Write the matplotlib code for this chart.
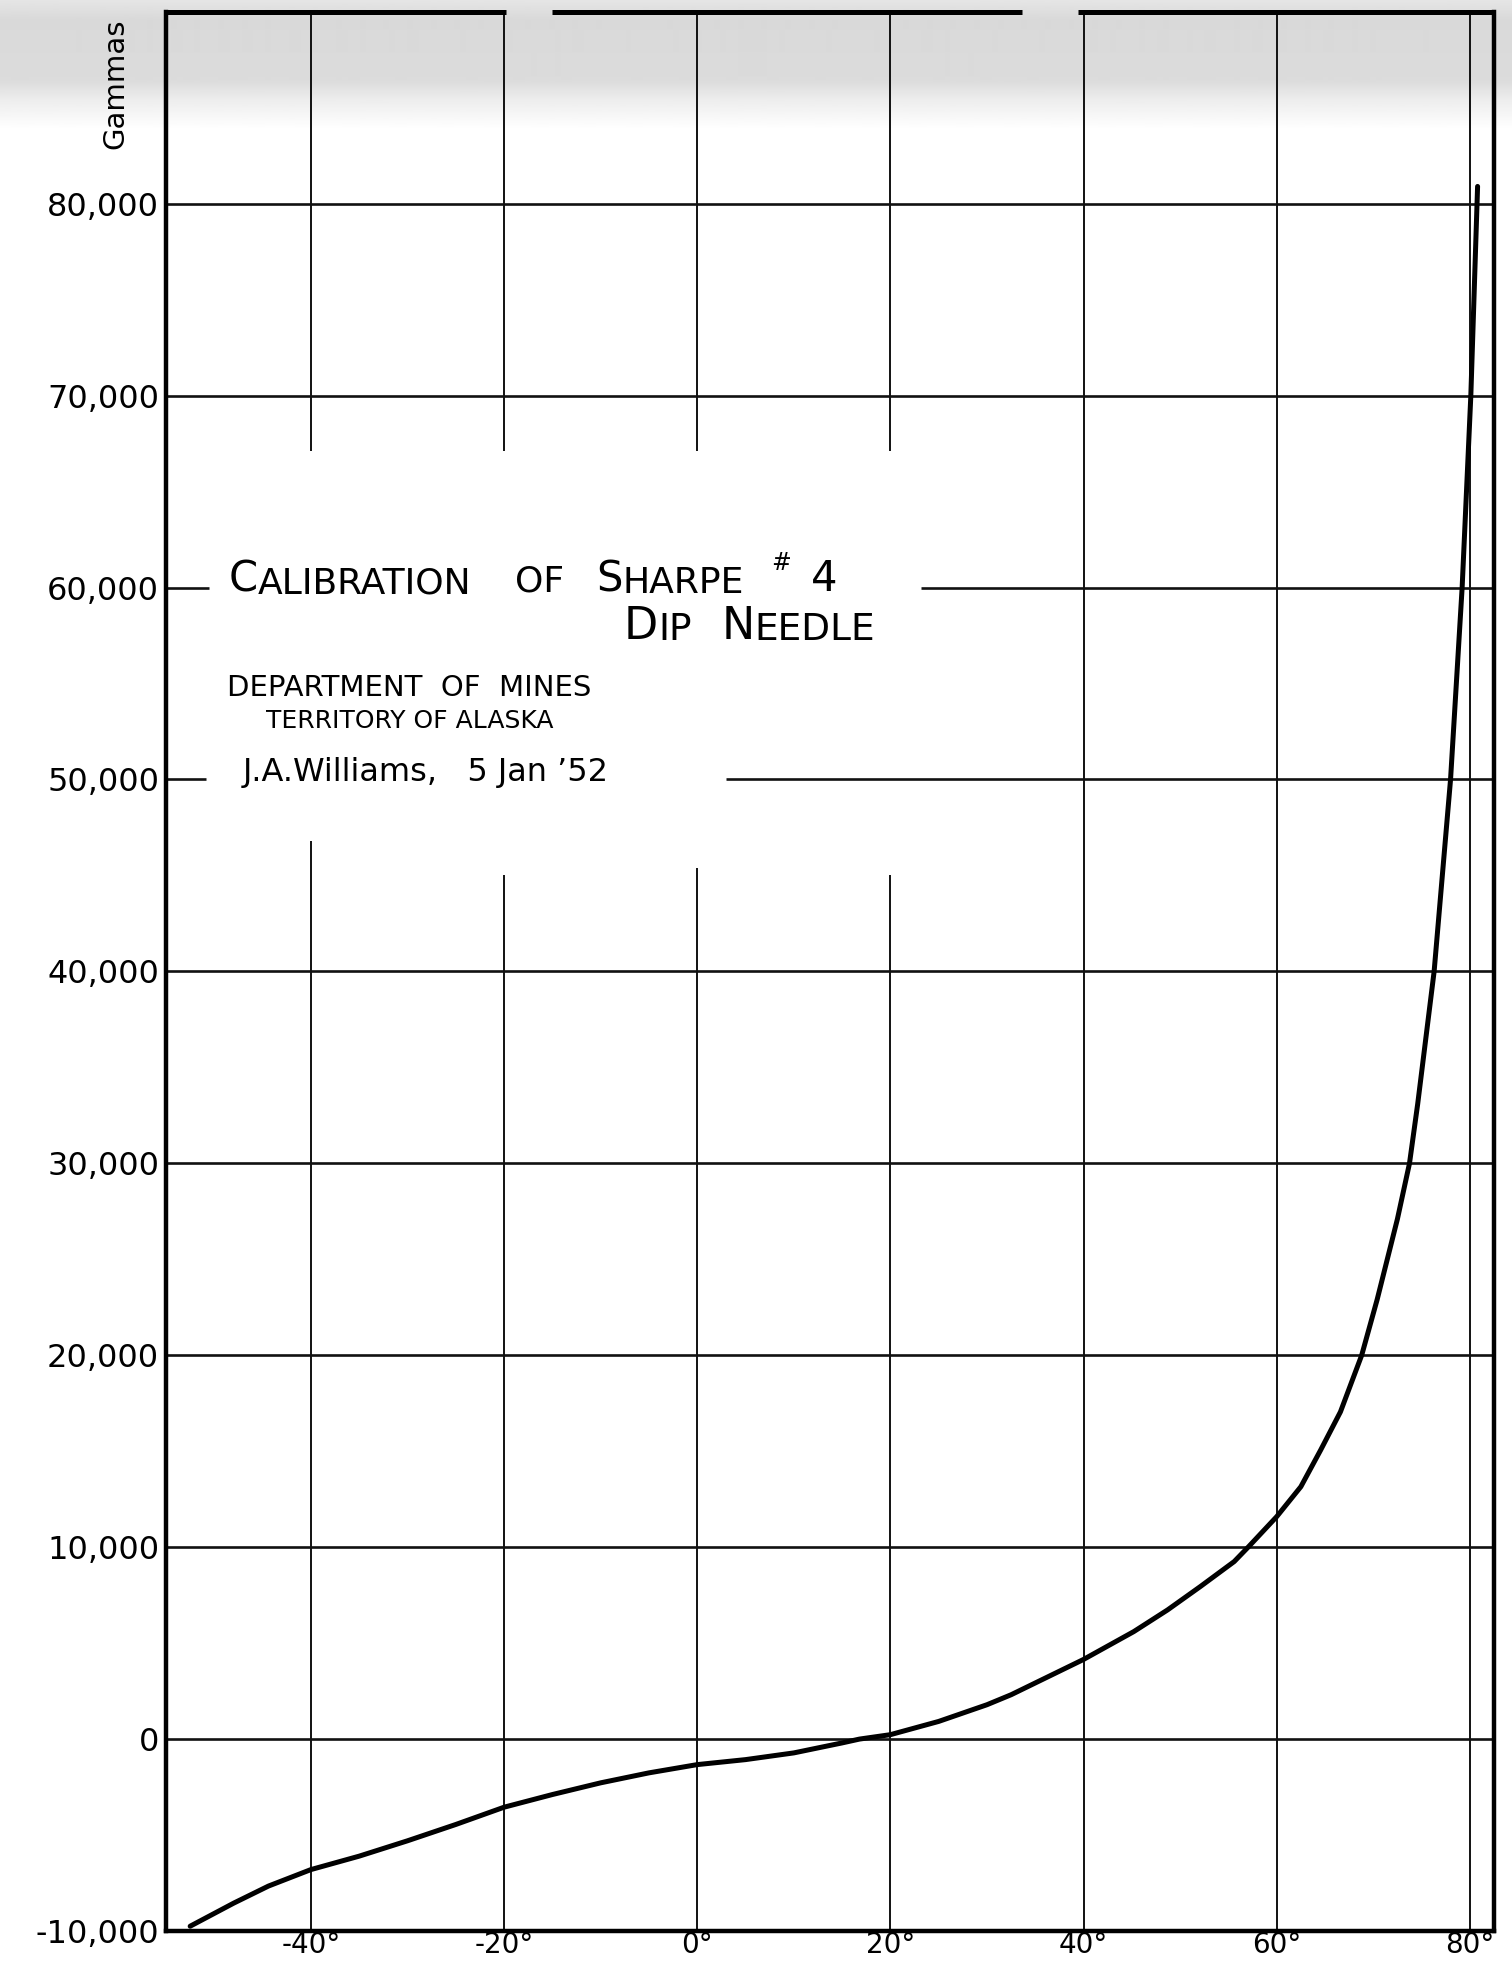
import numpy as np
import matplotlib
matplotlib.use("Agg")
import matplotlib.pyplot as plt

# dip-needle reading (degrees) against field (gammas)
dip_deg = [-52.5, -48.0, -44.4, -40.0, -35.0, -30.0, -25.0, -20.0, -15.0, -10.0,
           -5.0, 0.0, 5.0, 10.0, 15.0, 16.8, 20.0, 25.0, 30.0, 32.5,
           40.0, 45.2, 48.7, 52.1, 55.6, 57.1, 60.0, 62.5, 64.55, 66.6,
           68.8, 70.4, 72.5, 73.75, 74.6, 76.3, 78.0, 79.2, 80.1, 80.8]
gammas = [-9750, -8550, -7660, -6800, -6100, -5300, -4450, -3550, -2890, -2280,
          -1760, -1330, -1070, -720, -200, 0, 230, 920, 1790, 2310,
          4150, 5600, 6730, 7950, 9250, 10030, 11590, 13150, 15060, 17050,
          20000, 22900, 27100, 30000, 33100, 40000, 50000, 60000, 70000, 80900]

x_ticks = [-40, -20, 0, 20, 40, 60, 80]
x_labels = ["-40°", "-20°", "0°", "20°", "40°", "60°", "80°"]
y_ticks = [-10000, 0, 10000, 20000, 30000, 40000, 50000, 60000, 70000, 80000]
y_labels = ["-10,000", "0", "10,000", "20,000", "30,000", "40,000",
            "50,000", "60,000", "70,000", "80,000"]

XMIN, XMAX = -55, 82.5
YMIN, YMAX = -10000, 90000

fig = plt.figure(figsize=(15.12, 19.66), dpi=100)

# scanned paper: grey speckle band along the top edge
bg = fig.add_axes([0, 0, 1, 1], zorder=0)
rows = np.arange(130)
shade = np.interp(rows, [0, 20, 80, 100, 129], [0.90, 0.85, 0.86, 0.93, 1.0])
bg.imshow(shade[:, None], extent=[0, 1512, 130, 0], cmap="gray", vmin=0, vmax=1,
          aspect="auto", interpolation="bilinear")
bg.set_xlim(0, 1512); bg.set_ylim(1966, 0)
bg.axis("off")

ax = fig.add_axes([0.1098, 0.0178, 0.8783, 0.9762], zorder=1)
ax.set_facecolor("none")
ax.set_xlim(XMIN, XMAX); ax.set_ylim(YMIN, YMAX)

# grid, with the gaps the draftsman left around the lettering
v_gaps = {-40: (46800, 67100), -20: (45000, 67100), 0: (45400, 67100), 20: (45000, 67100)}
h_gaps = {60000: (-50.5, 23.2), 50000: (-50.9, 3.0)}
for x in x_ticks:
    if x in v_gaps:
        lo, hi = v_gaps[x]
        ax.vlines([x, x], [YMIN, hi], [lo, YMAX], color="#111111", lw=1.4)
    else:
        ax.vlines(x, YMIN, YMAX, color="#111111", lw=1.4)
for y in y_ticks[1:]:
    if y in h_gaps:
        lo, hi = h_gaps[y]
        ax.hlines([y, y], [XMIN, hi], [lo, XMAX], color="#111111", lw=1.9)
    else:
        ax.hlines(y, XMIN, XMAX, color="#111111", lw=1.9)

# frame (top edge is torn in two places on the scan)
for s in ("left", "right", "bottom"):
    ax.spines[s].set_linewidth(3.2)
ax.spines["top"].set_visible(False)
ax.hlines([YMAX] * 3, [XMIN, -15.0, 39.4], [-19.8, 33.6, XMAX],
          color="black", lw=3.6, clip_on=False)

# calibration curve
ax.plot(dip_deg, gammas, color="black", lw=3.6, solid_capstyle="round",
        solid_joinstyle="round", zorder=3)

ax.set_xticks(x_ticks, x_labels)
ax.set_yticks(y_ticks, y_labels)
ax.tick_params(axis="both", length=0)
ax.tick_params(axis="x", labelsize=20, pad=0)
ax.tick_params(axis="y", labelsize=23, pad=5)

fig.text(115 / 1512, 1 - 84 / 1966, "Gammas", rotation=90, fontsize=21,
         ha="center", va="center")


def small_caps(x, y, parts):
    # first piece placed on the baseline, the rest chained to its right
    t = ax.text(x, y, parts[0][0], fontsize=parts[0][1], va="baseline", ha="left")
    for s, fs in parts[1:]:
        t = ax.annotate(s, xy=(1, 0), xycoords=t, fontsize=fs, va="bottom", ha="left")
    return t


BIG, SMALL = 30, 26
small_caps(-48.5, 59800, [("C", BIG), ("ALIBRATION", SMALL)])
small_caps(-18.9, 59800, [("OF", SMALL)])
small_caps(-10.5, 59800, [("S", BIG), ("HARPE", SMALL)])
ax.text(7.7, 60900, "#", fontsize=17, va="baseline", ha="left")
ax.text(11.8, 59800, "4", fontsize=BIG, va="baseline", ha="left")
small_caps(-7.6, 57300, [("D", 32), ("IP", 27)])
small_caps(2.5, 57300, [("N", 32), ("EEDLE", 27)])

ax.text(-48.7, 54340, "DEPARTMENT  OF  MINES", fontsize=21, va="baseline", ha="left")
ax.text(-44.6, 52670, "TERRITORY OF ALASKA", fontsize=18, va="baseline", ha="left")
ax.text(-47.1, 49920, "J.A.Williams,   5 Jan ’52", fontsize=23, va="baseline", ha="left")

fig.savefig("out.png", dpi=100, facecolor="white")
